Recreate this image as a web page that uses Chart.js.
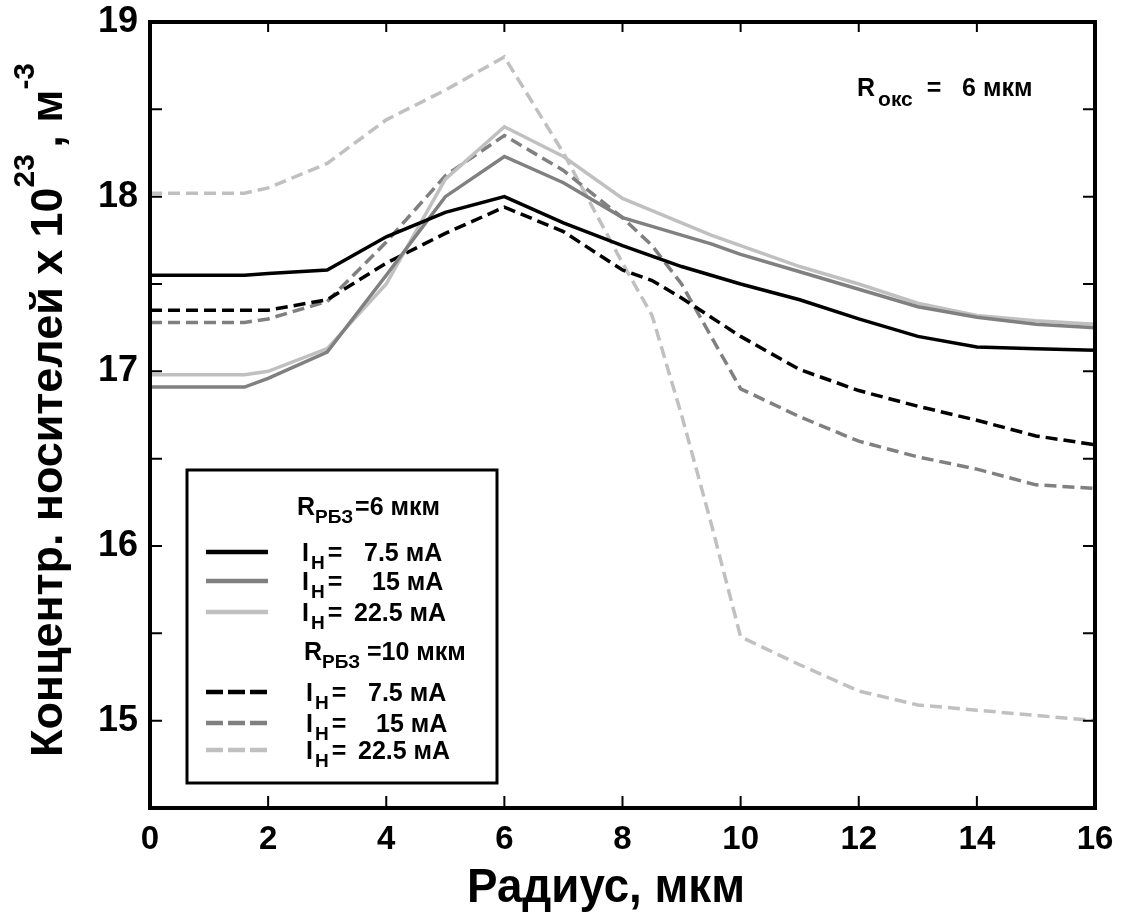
<!DOCTYPE html>
<html>
<head>
<meta charset="utf-8">
<script src="https://cdn.jsdelivr.net/npm/chart.js@4.4.1/dist/chart.umd.min.js"></script>
<style>
  html, body { margin: 0; padding: 0; background: #fff; }
</style>
</head>
<body>
<canvas id="myChart" width="1132" height="916"></canvas>
<script>
// radius, mkm
const radius = [0, 1.6, 2, 3, 4, 5, 6, 7, 8, 8.5, 9, 9.5, 10, 11, 12, 13, 14, 15, 16];

// R_RBZ = 6 mkm (solid)
const r6_i75  = [17.55, 17.55, 17.56, 17.58, 17.77, 17.91, 18.00, 17.85, 17.72, 17.66, 17.60, 17.55, 17.50, 17.41, 17.30, 17.20, 17.14, 17.13, 17.12];
const r6_i15  = [16.91, 16.91, 16.96, 17.11, 17.55, 18.00, 18.23, 18.08, 17.88, 17.83, 17.78, 17.73, 17.67, 17.57, 17.47, 17.37, 17.31, 17.27, 17.25];
const r6_i225 = [16.98, 16.98, 17.00, 17.13, 17.50, 18.10, 18.40, 18.23, 17.99, 17.92, 17.85, 17.78, 17.72, 17.60, 17.50, 17.39, 17.32, 17.29, 17.27];

// R_RBZ = 10 mkm (dashed)
const r10_i75  = [17.35, 17.35, 17.35, 17.41, 17.62, 17.79, 17.94, 17.80, 17.58, 17.52, 17.42, 17.31, 17.20, 17.01, 16.89, 16.80, 16.72, 16.63, 16.58];
const r10_i15  = [17.28, 17.28, 17.30, 17.40, 17.74, 18.12, 18.35, 18.15, 17.88, 17.72, 17.50, 17.20, 16.90, 16.74, 16.60, 16.51, 16.44, 16.35, 16.33];
const r10_i225 = [18.02, 18.02, 18.05, 18.19, 18.44, 18.61, 18.80, 18.25, 17.62, 17.32, 16.75, 16.13, 15.48, 15.32, 15.17, 15.09, 15.06, 15.03, 15.00];

const currents = ['7.5', '15', '22.5'];
const xTicks = [0, 2, 4, 6, 8, 10, 12, 14, 16];
const yTicks = [15, 16, 17, 18, 19];

const FONT = '"Liberation Sans", Arial, sans-serif';
const BLACK = '#000000', GREY = '#808080', LIGHT = '#c0c0c0';

function pts(ys) {
  return radius.map((x, i) => ({ x: x, y: ys[i] }));
}

function series(label, ys, color, dashed) {
  return {
    label: label,
    data: pts(ys),
    borderColor: color,
    backgroundColor: color,
    borderWidth: 3.5,
    borderDash: dashed ? [12, 6] : [],
    pointRadius: 0,
    tension: 0,
    fill: false
  };
}

// draws a string made of pieces (normal / sub / sup)
function richText(ctx, x, y, parts, sx) {
  ctx.save();
  ctx.translate(x, y);
  ctx.scale(sx || 1, 1);
  let cx = 0;
  parts.forEach(p => {
    ctx.font = 'bold ' + p.size + 'px ' + FONT;
    ctx.fillText(p.t, cx + (p.dx || 0), p.dy || 0);
    cx += ctx.measureText(p.t).width + (p.dx || 0);
  });
  ctx.restore();
}

function partsWidth(ctx, parts) {
  let w = 0;
  parts.forEach(p => {
    ctx.font = 'bold ' + p.size + 'px ' + FONT;
    w += ctx.measureText(p.t).width + (p.dx || 0);
  });
  return w;
}

const decorPlugin = {
  id: 'decor',
  afterDatasetsDraw(chart) {
    const ctx = chart.ctx;
    const a = chart.chartArea;
    const xs = chart.scales.x, ys = chart.scales.y;
    ctx.save();
    ctx.strokeStyle = BLACK;
    ctx.fillStyle = BLACK;
    ctx.textBaseline = 'alphabetic';
    ctx.textAlign = 'left';

    // inward ticks
    ctx.lineWidth = 2;
    ctx.beginPath();
    xTicks.slice(1, -1).forEach(v => {
      const px = xs.getPixelForValue(v);
      ctx.moveTo(px, a.bottom); ctx.lineTo(px, a.bottom - 12);
      ctx.moveTo(px, a.top); ctx.lineTo(px, a.top + 10);
    });
    for (let v = 15; v < 19; v += 0.5) {
      const py = ys.getPixelForValue(v);
      ctx.moveTo(a.left, py); ctx.lineTo(a.left + 12, py);
      ctx.moveTo(a.right, py); ctx.lineTo(a.right - 12, py);
    }
    ctx.stroke();

    // frame
    ctx.lineWidth = 4;
    ctx.strokeRect(a.left, a.top, a.right - a.left, a.bottom - a.top);

    // legend box
    ctx.fillStyle = '#fff';
    ctx.fillRect(187, 470, 310, 313);
    ctx.lineWidth = 3;
    ctx.strokeRect(187, 470, 310, 313);
    ctx.fillStyle = BLACK;

    richText(ctx, 297, 515, [
      { t: 'R', size: 25 }, { t: 'РБЗ', size: 19, dy: 8 }, { t: '=6 мкм', size: 25, dx: 2 }
    ]);
    richText(ctx, 304, 660, [
      { t: 'R', size: 25 }, { t: 'РБЗ', size: 19, dy: 8 }, { t: ' =10 мкм', size: 25 }
    ]);

    const rowsY = [552, 581, 612, 692, 723, 750];
    const valX = [364, 372, 354];
    chart.data.datasets.forEach((ds, i) => {
      const y = rowsY[i];
      ctx.save();
      ctx.strokeStyle = ds.borderColor;
      ctx.lineWidth = 4.5;
      ctx.setLineDash(i >= 3 ? [17, 5] : []);
      ctx.beginPath();
      ctx.moveTo(206, y); ctx.lineTo(268, y);
      ctx.stroke();
      ctx.restore();
      const k = i % 3;
      const off = i >= 3 ? 4 : 0;
      const base = y + 9;
      richText(ctx, 302 + off, base, [
        { t: 'I', size: 25 }, { t: 'H', size: 19, dy: 8, dx: 2 }, { t: '=', size: 25, dx: 3 }
      ]);
      ctx.font = 'bold 25px ' + FONT;
      ctx.fillText(currents[k] + ' мА', valX[k] + off, base);
    });

    // annotation
    richText(ctx, 857, 96, [
      { t: 'R', size: 25 }, { t: 'окс', size: 21, dy: 10, dx: 3 }, { t: '  =   6 мкм', size: 25 }
    ]);

    // x axis title
    const xt = [{ t: 'Радиус, мкм', size: 48 }];
    const xw = partsWidth(ctx, xt);
    richText(ctx, 606 - 139, 902, xt, 278 / xw);

    // y axis title
    const yt = [
      { t: 'Концентр. носителей х 10', size: 45 },
      { t: '23', size: 30, dy: -28 },
      { t: ' , м', size: 45, dx: -6 },
      { t: '-3', size: 30, dy: -28 }
    ];
    const yw = partsWidth(ctx, yt);
    ctx.save();
    ctx.translate(62, 757);
    ctx.rotate(-Math.PI / 2);
    richText(ctx, 0, 0, yt, 694 / yw);
    ctx.restore();

    ctx.restore();
  }
};

new Chart(document.getElementById('myChart'), {
  type: 'line',
  data: {
    datasets: [
      series('7.5 мА, 6 мкм', r6_i75, BLACK, false),
      series('15 мА, 6 мкм', r6_i15, GREY, false),
      series('22.5 мА, 6 мкм', r6_i225, LIGHT, false),
      series('7.5 мА, 10 мкм', r10_i75, BLACK, true),
      series('15 мА, 10 мкм', r10_i15, GREY, true),
      series('22.5 мА, 10 мкм', r10_i225, LIGHT, true)
    ]
  },
  options: {
    responsive: false,
    animation: false,
    devicePixelRatio: 1,
    layout: { padding: { top: 22, right: 37, left: 0, bottom: 0 } },
    plugins: {
      legend: { display: false },
      tooltip: { enabled: false },
      title: { display: false }
    },
    scales: {
      x: {
        type: 'linear',
        min: 0,
        max: 16,
        afterBuildTicks: s => { s.ticks = xTicks.map(v => ({ value: v })); },
        afterFit: s => { s.height = 108; },
        grid: { display: false, drawTicks: false },
        border: { display: false },
        ticks: {
          color: BLACK,
          padding: 12,
          maxRotation: 0,
          font: { family: FONT, size: 33, weight: 'bold' }
        }
      },
      y: {
        min: 14.5,
        max: 19,
        afterBuildTicks: s => { s.ticks = yTicks.map(v => ({ value: v })); },
        afterFit: s => { s.width = 150; s.paddingTop = 0; s.paddingBottom = 0; },
        grid: { display: false, drawTicks: false },
        border: { display: false },
        ticks: {
          color: BLACK,
          padding: 12,
          font: { family: FONT, size: 36, weight: 'bold' }
        }
      }
    }
  },
  plugins: [decorPlugin]
});
</script>
</body>
</html>
